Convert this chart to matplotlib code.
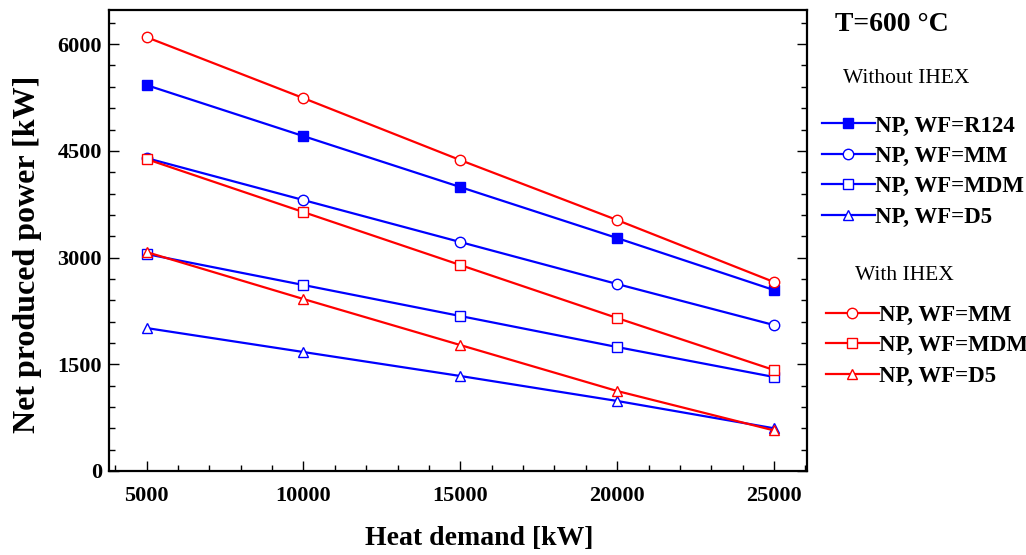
import matplotlib
matplotlib.use("Agg")
import matplotlib.pyplot as plt
from matplotlib.ticker import MultipleLocator

plt.rcParams['font.family'] = ['Liberation Serif', 'DejaVu Serif']

# heat demand [kW]
heat_demand = [5000, 10000, 15000, 20000, 25000]

# net produced power [kW], without IHEX
np_r124 = [5424, 4707, 3991, 3274, 2543]
np_mm = [4398, 3808, 3218, 2628, 2051]
np_mdm = [3049, 2614, 2178, 1742, 1321]
np_d5 = [2009, 1672, 1335, 984, 600]

# net produced power [kW], with IHEX
np_mm_ihex = [6098, 5241, 4370, 3527, 2656]
np_mdm_ihex = [4384, 3639, 2895, 2150, 1419]
np_d5_ihex = [3077, 2417, 1770, 1124, 570]

fig = plt.figure(figsize=(10.26, 5.55), dpi=100)
ax = fig.add_axes([0.1062, 0.1514, 0.6803, 0.8306])

blue = '#0000ff'
red = '#ff0000'
kw = dict(lw=1.6, ms=7.5, mew=1.0)

h_r124, = ax.plot(heat_demand, np_r124, color=blue, marker='s', mfc=blue, mec=blue,
                  label='NP, WF=R124', **kw)
h_mm, = ax.plot(heat_demand, np_mm, color=blue, marker='o', mfc='white', mec=blue,
                label='NP, WF=MM', **kw)
h_mdm, = ax.plot(heat_demand, np_mdm, color=blue, marker='s', mfc='white', mec=blue,
                 label='NP, WF=MDM', **kw)
h_d5, = ax.plot(heat_demand, np_d5, color=blue, marker='^', mfc='white', mec=blue,
                label='NP, WF=D5', **kw)

r_mm, = ax.plot(heat_demand, np_mm_ihex, color=red, marker='o', mfc='white', mec=red,
                label='NP, WF=MM', **kw)
r_mdm, = ax.plot(heat_demand, np_mdm_ihex, color=red, marker='s', mfc='white', mec=red,
                 label='NP, WF=MDM', **kw)
r_d5, = ax.plot(heat_demand, np_d5_ihex, color=red, marker='^', mfc='white', mec=red,
                label='NP, WF=D5', **kw)

ax.set_xlim(3800, 26050)
ax.set_ylim(0, 6480)
ax.xaxis.set_major_locator(MultipleLocator(5000))
ax.xaxis.set_minor_locator(MultipleLocator(1000))
ax.yaxis.set_major_locator(MultipleLocator(1500))
ax.yaxis.set_minor_locator(MultipleLocator(300))
ax.tick_params(which='both', direction='in', right=True, top=False, width=1.0)
ax.tick_params(which='major', length=7, labelsize=16)
ax.tick_params(axis='x', which='major', pad=11)
ax.tick_params(axis='y', which='major', pad=5)
ax.tick_params(which='minor', length=4)
for lab in ax.get_xticklabels() + ax.get_yticklabels():
    lab.set_fontweight('bold')
for sp in ax.spines.values():
    sp.set_linewidth(1.6)

ax.set_xlabel('Heat demand [kW]', fontsize=20, fontweight='bold')
ax.set_ylabel('Net produced power [kW]', fontsize=23, fontweight='bold')
ax.xaxis.set_label_coords(0.531, -0.12)
ax.yaxis.set_label_coords(-0.096, 0.47)

fig.text(0.814, 0.955, 'T=600 °C', fontsize=20, fontweight='bold', va='center')
fig.text(0.822, 0.859, 'Without IHEX', fontsize=15.5, va='center')
fig.text(0.833, 0.503, 'With IHEX', fontsize=15.5, va='center')

leg_kw = dict(frameon=False, handlelength=2.3, handletextpad=0.0, labelspacing=0.41,
              borderaxespad=0, borderpad=0, prop={'weight': 'bold', 'size': 16.5})
fig.legend(handles=[h_r124, h_mm, h_mdm, h_d5], loc='upper left',
           bbox_to_anchor=(0.801, 0.792), **leg_kw)
fig.legend(handles=[r_mm, r_mdm, r_d5], loc='upper left',
           bbox_to_anchor=(0.805, 0.451), **leg_kw)

fig.savefig('out.png', dpi=100)
